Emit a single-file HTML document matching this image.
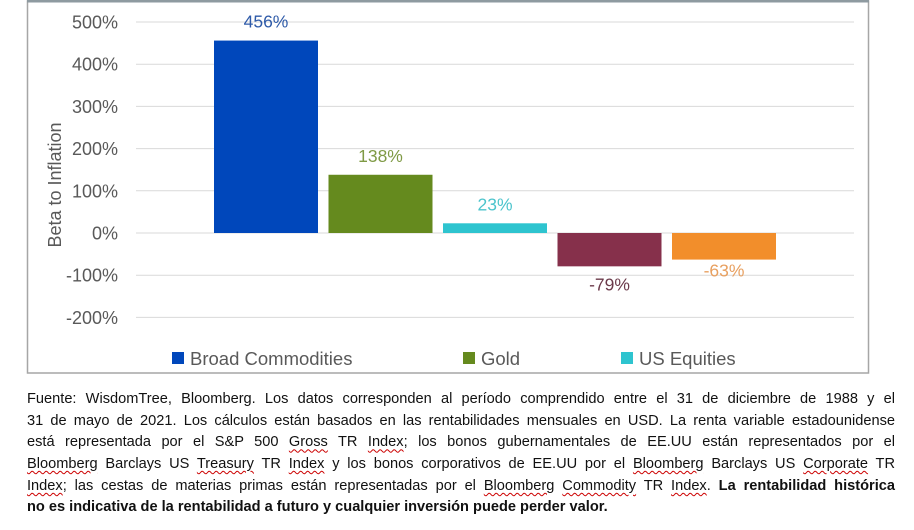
<!DOCTYPE html>
<html><head><meta charset="utf-8"><style>
body{margin:0;width:914px;height:530px;background:#fff;overflow:hidden;font-family:"Liberation Sans",sans-serif}
#chart{position:absolute;left:0;top:0}
.fn{position:absolute;left:27px;width:868px;font-size:14.6px;color:#111;white-space:nowrap}
.fl{height:21.7px;line-height:21.7px;text-align:justify;text-align-last:justify;white-space:normal}
.u{text-decoration:underline wavy #c00;text-decoration-thickness:1px;text-underline-offset:2px}
</style></head><body>
<svg id="chart" width="914" height="380" xmlns="http://www.w3.org/2000/svg" font-family="Liberation Sans, sans-serif">
<rect x="27.5" y="1" width="841" height="372" fill="#fff" stroke="#a6a6a6" stroke-width="1.5"/>
<line x1="27" y1="1" x2="869" y2="1" stroke="#8e9aa0" stroke-width="3"/>
<g id="grid"></g><g id="bars"></g><g id="labels"></g>
<text transform="translate(61,185) rotate(-90)" text-anchor="middle" font-size="18" fill="#595959">Beta to Inflation</text>
<g id="legend"></g>
</svg>
<div class="fn" style="top:389px">
<div class="fl">Fuente: WisdomTree, Bloomberg. Los datos corresponden al período comprendido entre el 31 de diciembre de 1988 y el</div>
<div class="fl">31 de mayo de 2021. Los cálculos están basados en las rentabilidades mensuales en USD. La renta variable estadounidense</div>
<div class="fl">está representada por el S&amp;P 500 <span class="u">Gross</span> TR <span class="u">Index</span>; los bonos gubernamentales de EE.UU están representados por el</div>
<div class="fl"><span class="u">Bloomberg</span> Barclays US <span class="u">Treasury</span> TR <span class="u">Index</span> y los bonos corporativos de EE.UU por el <span class="u">Bloomberg</span> Barclays US <span class="u">Corporate</span> TR</div>
<div class="fl"><span class="u">Index</span>; las cestas de materias primas están representadas por el <span class="u">Bloomberg</span> <span class="u">Commodity</span> TR <span class="u">Index</span>. <b>La rentabilidad histórica</b></div>
<div class="fl" style="text-align-last:left"><b>no es indicativa de la rentabilidad a futuro y cualquier inversión puede perder valor.</b></div>
</div>
<script>
const categories=["Broad Commodities","Gold","US Equities","Treasuries","Corporates"];
const values=[456,138,23,-79,-63];
const valueLabels=["456%","138%","23%","-79%","-63%"];
const colors=["#0047bb","#658a1e","#2ec4cf","#86304b","#f28e2b"];
const labelColors=["#2e5aa8","#7f9a45","#4cc4cc","#6b3a4a","#e8a060"];
const ticks=[500,400,300,200,100,0,-100,-200];
const tickLabels=["500%","400%","300%","200%","100%","0%","-100%","-200%"];
const legendNames=["Broad Commodities","Gold","US Equities"];
const NS="http://www.w3.org/2000/svg";
const y0=233,k=42.2/100;
function y(v){return y0-v*k;}
function x(i){return 214+i*114.5;}
const bw=104;
function mk(t,a,p){const e=document.createElementNS(NS,t);for(const n in a)e.setAttribute(n,a[n]);p.appendChild(e);return e;}
const g=document.getElementById('grid');
ticks.forEach((t,i)=>{
 const l=mk('line',{x1:136,x2:854,y1:y(t),y2:y(t),stroke:'#d9d9d9','stroke-width':1},g);
 
 
 const tx=mk('text',{x:118,y:y(t)+6.5,'text-anchor':'end','font-size':18,fill:'#595959'},g);
 
 
 tx.textContent=tickLabels[i];
});
const b=document.getElementById('bars'),lb=document.getElementById('labels');
values.forEach((v,i)=>{
 const top=Math.min(y(v),y(0)),h=Math.abs(y(v)-y(0));
 const r=mk('rect',{x:x(i),y:top,width:bw,height:h,fill:colors[i]},b);
 
 
 const ly=v>=0?y(v)-13:y(v)+24;
 const t=mk('text',{x:x(i)+bw/2,y:ly+ (i==4?-7:0),'text-anchor':'middle','font-size':17.5,fill:labelColors[i]},lb);
 
 
 t.textContent=valueLabels[i];
});
const lg=document.getElementById('legend');
const lx=[172,463,621];
legendNames.forEach((n,i)=>{
 const s=mk('rect',{x:lx[i],y:352,width:12,height:12,fill:colors[i]},lg);
 
 
 const t=mk('text',{x:lx[i]+18,y:365,'font-size':18.5,fill:'#595959'},lg);
 
 
 t.textContent=n;
});
</script>
</body></html>
